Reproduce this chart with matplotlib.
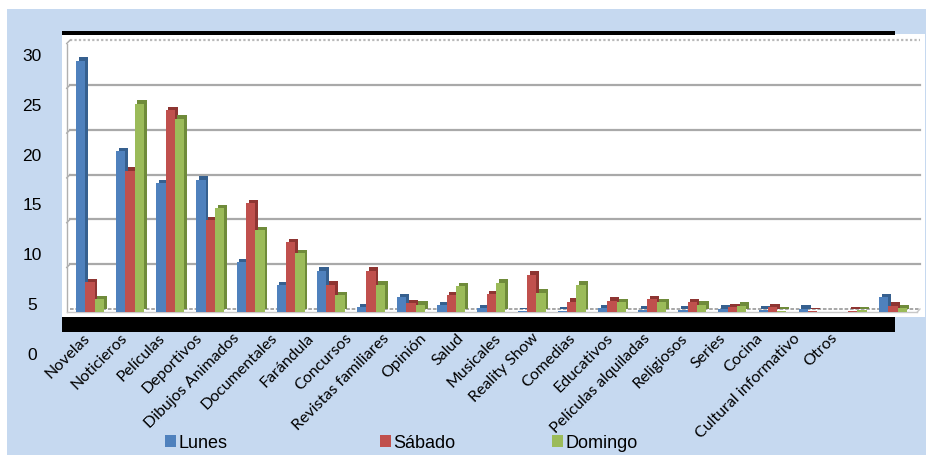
import matplotlib
matplotlib.use("Agg")
import matplotlib.pyplot as plt
from matplotlib.patches import Patch, Rectangle

# ---- data -------------------------------------------------------------
categories = ["Novelas", "Noticieros", "Películas", "Deportivos", "Dibujos Animados",
              "Documentales", "Farándula", "Concursos", "Revistas familiares", "Opinión",
              "Salud", "Musicales", "Reality Show", "Comedias", "Educativos",
              "Películas alquiladas", "Religiosos", "Series", "Cocina",
              "Cultural informativo", "Otros"]
lunes = [28.1, 18.0, 14.4, 14.8, 5.6, 3.0, 4.65, 0.6, 1.7, 0.8, 0.5,
         0.1, 0.2, 0.45, 0.3, 0.3, 0.4, 0.3, 0.4, 0.05, 1.7]
sabado = [3.4, 15.8, 22.6, 10.3, 12.2, 7.8, 3.1, 4.65, 1.0, 1.9, 2.0,
          4.2, 1.2, 1.3, 1.5, 1.1, 0.6, 0.55, 0.1, 0.2, 0.75]
domingo = [1.5, 23.3, 21.6, 11.6, 9.2, 6.6, 1.9, 3.1, 0.85, 2.9, 3.3,
           2.2, 3.1, 1.1, 1.1, 0.85, 0.75, 0.2, 0.05, 0.25, 0.5]
series_names = ["Lunes", "Sábado", "Domingo"]
y_ticks = [0, 5, 10, 15, 20, 25, 30]
grid_levels = [5, 10, 15, 20, 25]
grid_top = 30

# ---- styling ----------------------------------------------------------
front_colors = ["#4F81BD", "#C0504D", "#9BBB59"]
side_colors = ["#36608F", "#8E3532", "#6F8B3A"]
bg_blue = "#C6D9F0"
grid_gray = "#A9A9A9"

W, H = 926, 456
fig = plt.figure(figsize=(W / 100, H / 100), dpi=100)
fig.patch.set_facecolor("white")


def fx(px):
    return px / W


def fy(py):
    return 1 - py / H


# light blue chart background
fig.add_artist(Rectangle((fx(7), 0), 1 - fx(7), fy(10), transform=fig.transFigure,
                         facecolor=bg_blue, edgecolor="none", zorder=0))

# ---- plot area --------------------------------------------------------
px_unit_y = 8.96       # pixels per value unit
zero_py = 310          # pixel row of the value 0 on the back wall
px_group = 40.15       # pixels between category groups
first_px = 89.95       # pixel column of the first group's centre
left_px, right_px, top_py, bottom_py = 62, 925, 35, 318

ax = fig.add_axes([fx(left_px), fy(bottom_py), fx(right_px - left_px),
                   (bottom_py - top_py) / H])
ax.set_facecolor("white")
ax.set_ylim(-(bottom_py - zero_py) / px_unit_y, (zero_py - top_py) / px_unit_y)
ax.set_xlim((left_px - first_px) / px_group, (right_px - first_px) / px_group)
ax.set_xticks([])
ax.set_yticks([])
for s in ax.spines.values():
    s.set_visible(False)


def dx(px):
    return px / px_group


def dy(px):
    return px / px_unit_y


x_wall_front = (66.7 - first_px) / px_group
x_wall_back = x_wall_front + dx(3.3)
x_right = (920 - first_px) / px_group
depth_y = dy(3.3)

# back-wall gridlines with their short diagonal to the front edge
for v in grid_levels:
    ax.plot([x_wall_back, x_right], [v, v], color=grid_gray, lw=1.6, zorder=1)
    ax.plot([x_wall_front, x_wall_back], [v - depth_y, v], color=grid_gray, lw=1.0, zorder=1)
ax.plot([x_wall_back, x_right], [grid_top, grid_top], color="#B8B8B8", lw=1.6,
        ls=(0, (1, 1)), zorder=1)
ax.plot([x_wall_front, x_wall_back], [grid_top - depth_y, grid_top], color=grid_gray, lw=1.0, zorder=1)
# left wall edge
ax.plot([x_wall_front, x_wall_front], [-depth_y, grid_top - depth_y], color="#B0B0B0", lw=1.0, zorder=1)
# floor
ax.plot([x_wall_back, x_right], [0, 0], color="#A0A0A0", lw=1.3, ls=(0, (2, 1)), zorder=1)
ax.plot([x_wall_front, x_right - dx(3)], [-depth_y, -depth_y], color="#C8C8C8", lw=1.0, zorder=1)
ax.plot([x_right - dx(3), x_right], [-depth_y, 0], color="#C8C8C8", lw=1.0, zorder=1)

# 3-D looking columns: a dark extrusion behind each front face
bar_w = dx(9.3)
ext_x, ext_y = dx(2.6), depth_y
xs = list(range(len(categories)))
for k, values in enumerate([lunes, sabado, domingo]):
    pos = [x + (k - 1) * bar_w for x in xs]
    ax.bar([p + ext_x for p in pos], values, width=bar_w, bottom=0,
           color=side_colors[k], linewidth=0, zorder=2 + 2 * k)
    ax.bar(pos, values, width=bar_w, bottom=-ext_y,
           color=front_colors[k], linewidth=0, zorder=3 + 2 * k)

# black bands above and below the plot area
fig.add_artist(Rectangle((fx(62), fy(35.5)), fx(895 - 62), 3.5 / H, transform=fig.transFigure,
                         facecolor="black", edgecolor="none", zorder=5))
fig.add_artist(Rectangle((fx(62), fy(333)), fx(895 - 62), 15 / H, transform=fig.transFigure,
                         facecolor="black", edgecolor="none", zorder=5))

# ---- value labels on the left ------------------------------------------
yl = fig.add_axes([fx(32), fy(353.5), 0.0005, (353.5 - 55) / H])
yl.set_ylim(0, 30)
yl.set_yticks(y_ticks)
yl.set_yticklabels([str(t) for t in y_ticks], family="Liberation Sans", fontsize=12.5,
                   ha="center", color="black")
yl.tick_params(axis="y", length=0, pad=0)
yl.set_xticks([])
for s in yl.spines.values():
    s.set_visible(False)
yl.patch.set_alpha(0)

# ---- category labels --------------------------------------------------
xl = fig.add_axes([fx(88), fy(336), fx(37.35 * (len(categories) - 1)), 0.0005])
xl.set_xlim(0, len(categories) - 1)
xl.set_xticks(xs)
xl.set_xticklabels(categories, rotation=45, ha="right", va="center",
                   rotation_mode="anchor", family="Lato", fontsize=11.5, color="black")
xl.tick_params(axis="x", length=0, pad=0)
xl.set_yticks([])
for s in xl.spines.values():
    s.set_visible(False)
xl.patch.set_alpha(0)

# ---- legend -----------------------------------------------------------
legend_px = [165, 380, 552]
for name, color, lx in zip(series_names, front_colors, legend_px):
    fig.legend(handles=[Patch(facecolor=color, edgecolor="none")], labels=[name],
               loc="center left", bbox_to_anchor=(fx(lx), fy(444)), frameon=False,
               handlelength=0.6, handleheight=0.6, handletextpad=0.15,
               borderpad=0, borderaxespad=0,
               prop={"family": "Liberation Sans", "size": 13})

fig.savefig("out.png", dpi=100, facecolor=fig.get_facecolor())
